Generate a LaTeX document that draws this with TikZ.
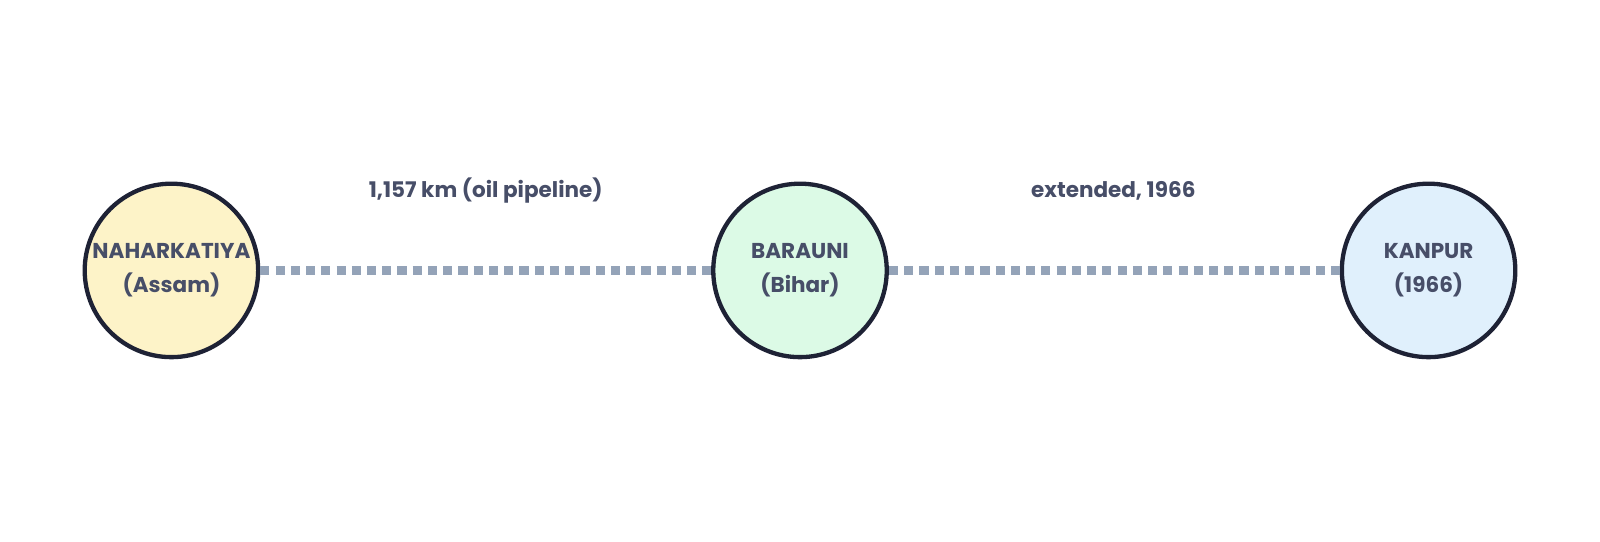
\documentclass[tikz,border=0pt]{standalone}
\usepackage{fontspec}
\setmainfont{Poppins}
\usetikzlibrary{positioning}
\definecolor{inkdark}{HTML}{1E2235}
\definecolor{inktext}{HTML}{474E68}
\definecolor{pipe}{HTML}{94A3B8}
\definecolor{fillA}{HTML}{FDF3C8}
\definecolor{fillB}{HTML}{DCFAE6}
\definecolor{fillC}{HTML}{E0F0FC}
\begin{document}
\begin{tikzpicture}[
    station/.style={circle,draw=inkdark,line width=2.4pt,minimum size=3.4cm,
      inner sep=0pt,align=center,text=inktext,font=\bfseries\large},
    pipeline/.style={pipe,line width=5.1pt,dash pattern=on 5.1pt off 3.4pt},
    note/.style={text=inktext,font=\bfseries\large}
  ]
  \useasboundingbox (0,0) rectangle (31.36,-10.62);
  \node [station,fill=fillA] (nah) at (3.36,-5.3) {NAHARKATIYA\\[5pt](Assam)};
  \node [station,fill=fillB] (bar) at (15.68,-5.3) {BARAUNI\\[5pt](Bihar)};
  \node [station,fill=fillC] (kan) at (28.0,-5.3) {KANPUR\\[5pt](1966)};
  \draw [pipeline] (nah)--(bar);
  \draw [pipeline] (bar)--(kan);
  \node [note] (lab1) at (9.52,-3.74) {1,157 km (oil pipeline)};
  \node [note] (lab2) at (21.82,-3.74) {extended, 1966};
\end{tikzpicture}
\end{document}
